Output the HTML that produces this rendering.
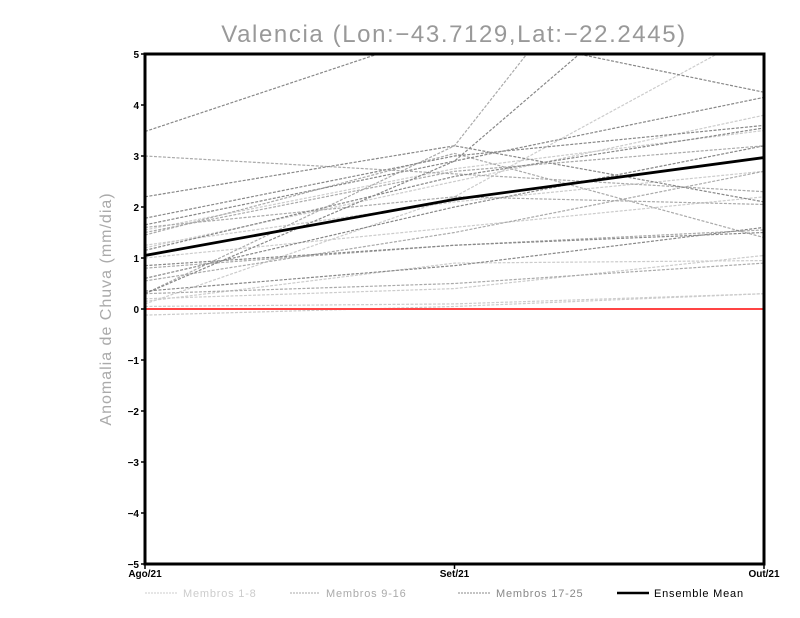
<!DOCTYPE html>
<html><head><meta charset="utf-8"><style>
html,body{margin:0;padding:0;background:#fff;width:800px;height:618px;overflow:hidden}
svg{display:block}
</style></head><body>
<svg id="chart" width="800" height="618" xmlns="http://www.w3.org/2000/svg" font-family="Liberation Sans, sans-serif">
<defs><clipPath id="clip"><rect x="145" y="54" width="619" height="510"/></clipPath></defs>
<text x="454" y="42" text-anchor="middle" font-size="24" fill="#999" letter-spacing="1.6">Valencia (Lon:−43.7129,Lat:−22.2445)</text>
<text transform="translate(111,309) rotate(-90)" text-anchor="middle" font-size="16" fill="#aaa" letter-spacing="1">Anomalia de Chuva (mm/dia)</text>
<g id="members" clip-path="url(#clip)"></g>
<line x1="145" x2="764" y1="309" y2="309" stroke="#f44" stroke-width="2"/>
<g id="meang" clip-path="url(#clip)"></g>
<rect x="145" y="54" width="619" height="510" fill="none" stroke="#000" stroke-width="3"/>
<g id="yticks"></g><g id="xticks"></g>
<g font-size="11" letter-spacing="0.8">
<line x1="145" x2="177" y1="593" y2="593" stroke="#ccc" stroke-dasharray="2,1"/><text x="183" y="597" fill="#ccc">Membros 1-8</text>
<line x1="290" x2="320" y1="593" y2="593" stroke="#aaa" stroke-dasharray="2,1"/><text x="326" y="597" fill="#aaa">Membros 9-16</text>
<line x1="458" x2="490" y1="593" y2="593" stroke="#888" stroke-dasharray="2,1"/><text x="496" y="597" fill="#888">Membros 17-25</text>
<line x1="617" x2="649" y1="593" y2="593" stroke="#000" stroke-width="2.5"/><text x="654" y="597" fill="#000">Ensemble Mean</text>
</g>
</svg>
<script>
const months = ["Ago/21","Set/21","Out/21"];
const yTickVals = [-5,-4,-3,-2,-1,0,1,2,3,4,5];
const meanVals = [1.05,2.15,2.97];
const light = [[1.55,2.75,3.5],[1.25,2.1,2.7],[1.2,2.5,3.8],[1.0,1.6,2.2],[0.1,2.2,5.5],[0.2,0.4,1.05],[0.15,0.9,0.95],[0.05,0.1,0.3],[-0.12,0.05,0.3]];
const mid = [[3.0,2.65,2.3],[1.5,2.7,3.2],[1.45,3.05,1.4],[0.55,1.5,2.7],[0.3,3.2,10.9],[0.3,0.5,0.9],[0.8,1.25,1.55],[1.6,2.2,2.05]];
const dark = [[3.48,5.5,4.25],[2.2,3.2,2.1],[1.78,3.0,3.6],[1.65,2.9,4.15],[0.85,1.25,1.5],[0.6,2.0,3.2],[0.3,2.9,8.1],[0.35,0.85,1.6],[1.15,2.6,3.55]];
const X = i => 145 + i * 309.5;
const Y = v => 309 - v * 51;
const NS = "http://www.w3.org/2000/svg";
function mk(tag, attrs, parent){const e=document.createElementNS(NS,tag);for(const k in attrs)e.setAttribute(k,attrs[k]);parent.appendChild(e);return e;}
const mg = document.getElementById('members');
[[light,'#ccc'],[mid,'#aaa'],[dark,'#888']].forEach(([grp,col],gi)=>{
  grp.forEach((vals)=>{
    const p = mk('polyline',{points:vals.map((v,i)=>X(i)+','+Y(v)).join(' '),fill:'none',stroke:col,'stroke-width':1.2,'stroke-dasharray':'3,1.5'},mg);
    
    
  });
});
const m = mk('polyline',{points:meanVals.map((v,i)=>X(i)+','+Y(v)).join(' '),fill:'none',stroke:'#000','stroke-width':2.8},document.getElementById('meang'));


const yg = document.getElementById('yticks');
yTickVals.forEach(v=>{
  const l = mk('line',{x1:141,x2:145,y1:Y(v),y2:Y(v),stroke:'#000','stroke-width':1.5},yg);
  
  
  const t = mk('text',{x:139,y:Y(v)+4,'text-anchor':'end','font-size':10,'font-weight':'bold'},yg);
  t.textContent = String(v).replace('-','\u2212');
  
  
});
const xg = document.getElementById('xticks');
months.forEach((mo,i)=>{
  const l = mk('line',{x1:X(i),x2:X(i),y1:564,y2:569,stroke:'#000','stroke-width':1.5},xg);
  
  
  const t = mk('text',{x:X(i),y:577,'text-anchor':'middle','font-size':10,'font-weight':'bold'},xg);
  t.textContent = mo;
  
  
});
</script>
</body></html>
